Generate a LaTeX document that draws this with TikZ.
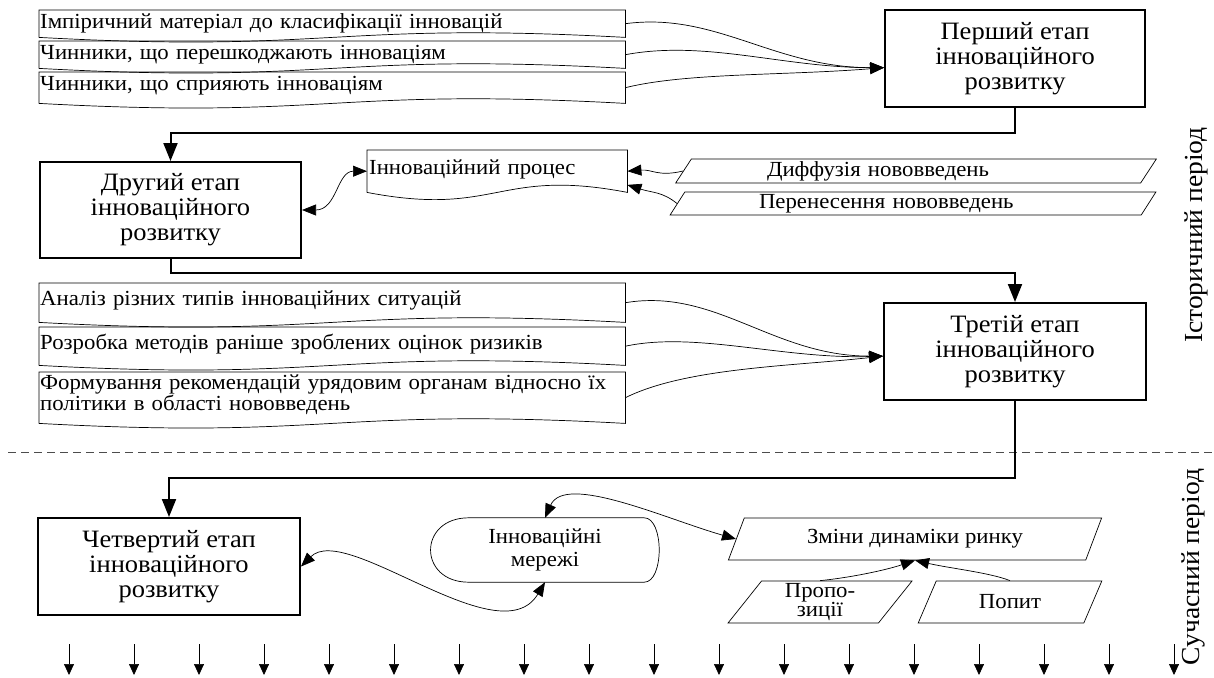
\documentclass[tikz,border=0pt]{standalone}
\usepackage{fontspec}
\setmainfont{Liberation Serif}[FakeStretch=1.06]
\usepackage{tikz}
\usetikzlibrary{calc,arrows.meta,shapes.geometric}

\newcommand{\boxfont}{\fontsize{21.5}{17}\selectfont}
\newcommand{\stagefont}{\fontsize{25}{25}\selectfont}
\newcommand{\periodfont}{\fontsize{26}{26}\selectfont}

% document box: flat top, wavy bottom
\newcommand{\docshape}[2]{%
  \draw[line width=0.7pt] (#1.south west) -- (#1.north west) -- (#1.north east) -- (#1.south east)
    .. controls ($(#1.south)+(0,-#2)$) and ($(#1.south)+(0,#2)$) .. (#1.south west);}

\begin{document}
\begin{tikzpicture}[x=1pt,y=-1pt,
  stagebox/.style={draw, line width=2pt, align=center, inner sep=0pt, font=\stagefont},
  docbox/.style 2 args={anchor=north west, minimum width=586pt, text width=584pt,
    inner xsep=1pt, inner ysep=0pt, align=left, font=\boxfont, text height=#1, text depth=#2},
  slantbox/.style={draw, line width=0.7pt, trapezium, trapezium left angle=62,
    trapezium right angle=118, trapezium stretches=true, inner sep=0pt, font=\boxfont},
  flow/.style={line width=2pt, -{Triangle[length=18pt,width=14pt]}},
  link/.style={line width=0.7pt, -{Triangle[length=14pt,width=11pt]}},
  twolink/.style={line width=0.7pt, {Triangle[length=14pt,width=11pt]}-{Triangle[length=14pt,width=11pt]}},
  drop/.style={line width=0.7pt, -{Triangle[length=11pt,width=10pt]}}]

\useasboundingbox (0,0) rectangle (1214,677);

% first stage
\node[docbox={18pt}{9pt}] (emp) at (39,10) {Імпіричний матеріал до класифікації інновацій};
\node[docbox={18pt}{9pt}] (obst) at (39,41) {Чинники, що перешкоджають інноваціям};
\node[docbox={18pt}{13pt}] (help) at (39,72) {Чинники, що сприяють інноваціям};
\docshape{emp}{16}
\docshape{obst}{16}
\docshape{help}{16}

\node[stagebox, minimum width=260pt, minimum height=97pt] (st1) at (1015,58.5) {Перший етап\\інноваційного\\розвитку};

\draw[link] (emp.east) .. controls +(90,-12) and +(-110,0) .. (st1.184);
\draw[link] (obst.east) .. controls +(80,-15) and +(-100,0) .. (st1.184);
\draw[link] (help.east) .. controls +(60,-15) and +(-100,8) .. (st1.184);

% second stage
\node[stagebox, minimum width=261pt, minimum height=96pt] (st2) at (170.5,210) {Другий етап\\інноваційного\\розвитку};
\draw[flow] (st1.south) -- ++(0,25) -| (st2.north);

\node[docbox={24pt}{18pt}, minimum width=260pt, text width=256pt, inner xsep=2pt] (proc) at (367,150) {Інноваційний процес};
\docshape{proc}{25}

\node[slantbox, minimum width=482pt, minimum height=24pt, text width=298pt, align=left] (dif) at (916,171) {Диффузія нововведень};
\node[slantbox, minimum width=488pt, minimum height=23pt, text width=308pt, align=left] (trans) at (913,203.5) {Перенесення нововведень};

\draw[twolink] (st2.east) .. controls +(35,0) and +(-30,0) .. (proc.west);
\draw[link] (dif.west) .. controls +(-25,6) and +(25,-2) .. (proc.east);
\draw[link] (trans.west) .. controls +(-15,-12) and +(25,8) .. (proc.-6);

% third stage
\node[docbox={22pt}{17pt}] (sit) at (39,283) {Аналіз різних типів інноваційних ситуацій};
\node[docbox={22pt}{16pt}] (risk) at (39,327) {Розробка методів раніше зроблених оцінок ризиків};
\node[docbox={17pt}{34pt}] (rec) at (39,372) {Формування рекомендацій урядовим органам відносно їх\\політики в області нововведень};
\docshape{sit}{16}
\docshape{risk}{16}
\docshape{rec}{16}

\node[stagebox, minimum width=262pt, minimum height=97pt] (st3) at (1015,351.5) {Третій етап\\інноваційного\\розвитку};
\draw[flow] (st2.south) -- ++(0,14) -| (st3.north);

\draw[link] (sit.east) .. controls +(90,-15) and +(-110,0) .. (st3.182);
\draw[link] (risk.east) .. controls +(70,-15) and +(-100,3) .. (st3.182);
\draw[link] (rec.east) .. controls +(60,-30) and +(-90,10) .. (st3.182);

\draw[dashed, dash pattern=on 8pt off 5pt, line width=0.6pt, black!70] (8,452) -- (1214,452);

% fourth stage
\node[stagebox, minimum width=262pt, minimum height=97pt] (st4) at (169,566.5) {Четвертий етап\\інноваційного\\розвитку};
\draw[flow] (st3.south) -- ++(0,77) -| (st4.north);

\node[align=center, font=\boxfont, minimum width=228pt, minimum height=64pt, inner sep=0pt] (net) at (545,550) {Інноваційні\\[3pt]мережі};
\draw[line width=0.7pt] ($(net.north west)+(38,0)$) -- ($(net.north east)+(-15,0)$)
  .. controls ($(net.north east)+(5,0)$) and ($(net.south east)+(5,0)$) .. ($(net.south east)+(-15,0)$)
  -- ($(net.south west)+(38,0)$)
  .. controls ($(net.south west)+(-13,0)$) and ($(net.north west)+(-13,0)$) .. cycle;

\node[slantbox, minimum width=374pt, minimum height=42pt] (mkt) at (915,539) {Зміни динаміки ринку};
\node[slantbox, minimum width=184pt, minimum height=42pt, align=center] (supp) at (820,602) {Пропо-\\зиції};
\node[slantbox, minimum width=184pt, minimum height=42pt] (dem) at (1010,602) {Попит};

\draw[twolink] (st4.east) .. controls +(45,-45) and +(-45,75) .. (net.south);
\draw[twolink] (net.north) .. controls +(20,-45) and +(-70,-20) .. (mkt.west);
\draw[link] (supp.north) .. controls +(30,-3) and +(-30,10) .. (mkt.south);
\draw[link] (dem.north) .. controls +(-20,-8) and +(35,8) .. (mkt.south);

\foreach \i in {0,...,17}{
  \coordinate (a\i) at (69+65*\i,644);
  \draw[drop] (a\i) -- ++(0,31);
}

\node[rotate=90, font=\periodfont] (hist) at (1196,235) {Історичний період};
\node[rotate=90, font=\periodfont] (now) at (1193,567) {Сучасний період};

\end{tikzpicture}
\end{document}
